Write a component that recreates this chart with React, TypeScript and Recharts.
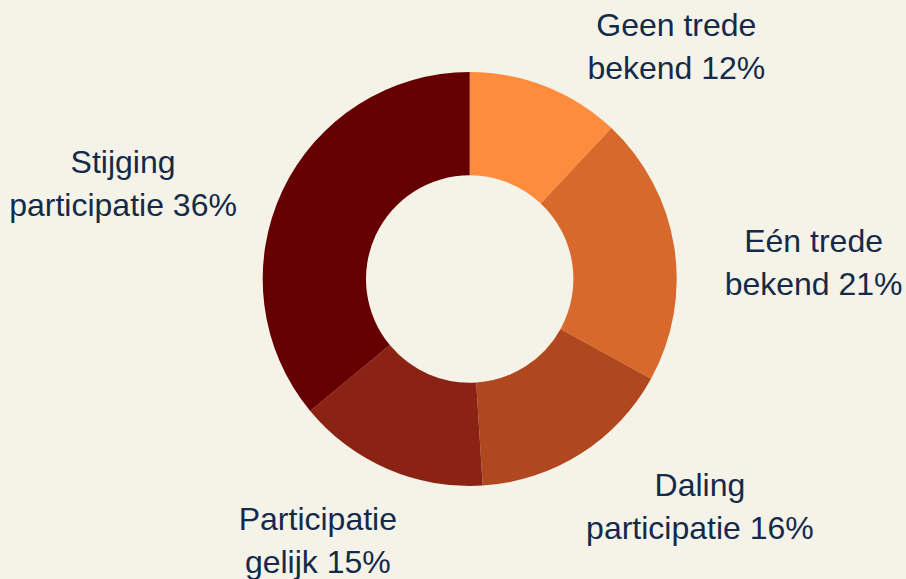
import React from 'react';
import { PieChart, Pie, Cell } from 'recharts';

const categories = [
  'Geen trede\nbekend',
  'Eén trede\nbekend',
  'Daling\nparticipatie',
  'Participatie\ngelijk',
  'Stijging\nparticipatie',
];
const shares = [12, 21, 16, 15, 36];
const sliceColors = ['#FD8D3C', '#D6692B', '#B1471E', '#8B2314', '#660000'];

const data = categories.map((c, i) => ({ name: c, value: shares[i] }));

// layout constants (not data)
const W = 906;
const H = 579;
const CX = 469.7;
const CY = 279;
const R_OUT = 207;
const R_IN = 103.7;
const FONT = 32;
const LH = 43;
const BG = '#F5F3E8';
const TEXT = '#142A4B';
const FONT_FAMILY = '"Liberation Sans", Arial, sans-serif';
const LABEL_NUDGE: [number, number][] = [
  [20, 0],
  [29, 20],
  [-16, 25],
  [31, 38],
  [-24, 3],
];

let ctx: CanvasRenderingContext2D | null = null;
function textWidth(s: string): number {
  if (!ctx) ctx = document.createElement('canvas').getContext('2d');
  if (!ctx) return s.length * FONT * 0.5;
  ctx.font = `${FONT}px ${FONT_FAMILY}`;
  return ctx.measureText(s).width;
}

function renderLabel(props: any) {
  const { cx, cy, midAngle, outerRadius, index, value } = props;
  const lines = categories[index].split('\n');
  lines[lines.length - 1] += ` ${value}%`;
  const w = Math.max(...lines.map(textWidth));
  const h = lines.length * LH;
  const rad = (midAngle * Math.PI) / 180;
  const px = outerRadius * Math.cos(rad);
  const py = -outerRadius * Math.sin(rad);
  let dx = w / 2;
  let dy = h / 2;
  if (px < 0) dx = -dx;
  if (py < 0) dy = -dy;
  const tx = dx + (Math.abs(dy) * Math.sign(dx)) / 2;
  const ty = dy / (1 + (px * px) / (py * py));
  const [nx, ny] = LABEL_NUDGE[index];
  const x = cx + px + tx + nx;
  const yMid = cy + py + ty + ny;
  const first = yMid - ((lines.length - 1) * LH) / 2 + 8;
  return (
    <text
      key={`lbl-${index}`}
      x={x}
      y={first}
      textAnchor="middle"
      fill={TEXT}
      fontSize={FONT}
      fontFamily={FONT_FAMILY}
    >
      {lines.map((l, i) => (
        <tspan key={i} x={x} y={first + i * LH}>
          {l}
        </tspan>
      ))}
    </text>
  );
}

export default function App() {
  return (
    <div
      style={{
        position: 'absolute',
        left: 0,
        top: 0,
        width: W,
        height: H,
        background: BG,
        overflow: 'hidden',
      }}
    >
      <PieChart width={W} height={H} margin={{ top: 0, right: 0, bottom: 0, left: 0 }}>
        <Pie
          data={data}
          dataKey="value"
          nameKey="name"
          cx={CX}
          cy={CY}
          innerRadius={R_IN}
          outerRadius={R_OUT}
          startAngle={90}
          endAngle={-270}
          stroke="none"
          label={renderLabel}
          labelLine={false}
          isAnimationActive={false}
        >
          {data.map((d, i) => (
            <Cell key={d.name} fill={sliceColors[i]} />
          ))}
        </Pie>
      </PieChart>
    </div>
  );
}
